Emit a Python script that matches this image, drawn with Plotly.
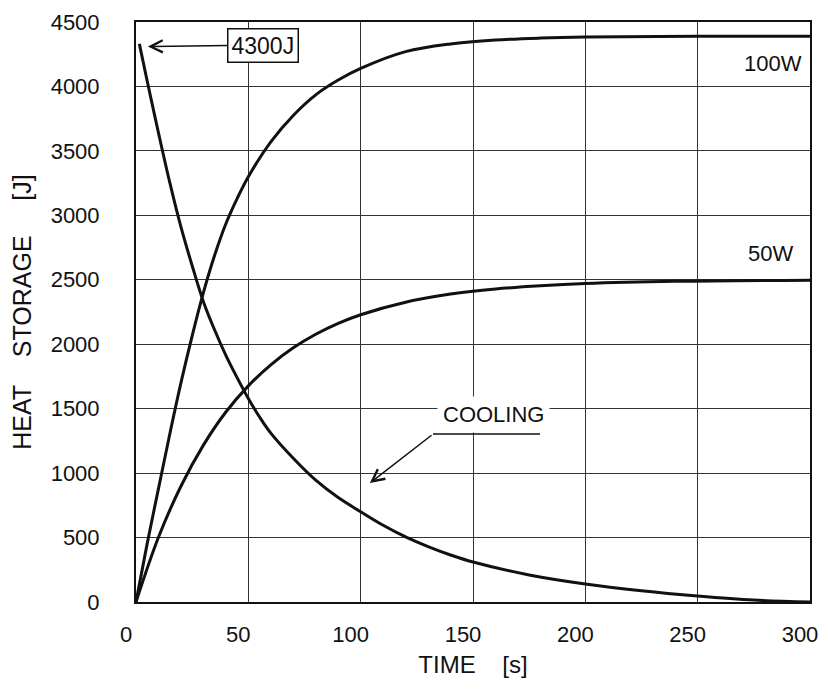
import plotly.graph_objects as go

# heat storage curves (time in s, energy in J)
t_100w = [0, 5, 10, 15, 20, 25, 30, 35, 40, 45, 50, 60, 70, 80, 90, 100, 120, 140, 160, 180, 200, 250, 300]
e_100w = [0, 455, 880, 1300, 1700, 2065, 2400, 2690, 2935, 3130, 3300, 3570, 3775, 3935, 4050, 4140, 4270, 4330, 4360, 4375, 4383, 4390, 4390]

t_50w = [0, 10, 20, 30, 40, 50, 60, 70, 80, 90, 100, 120, 140, 160, 180, 200, 240, 300]
e_50w = [0, 502, 898, 1217, 1474, 1677, 1840, 1972, 2077, 2162, 2229, 2326, 2389, 2429, 2454, 2471, 2488, 2497]

t_cool = [1.5, 5, 10, 15, 20, 25, 30, 35, 40, 45, 50, 55, 60, 70, 80, 90, 100, 110, 120, 130, 140, 150, 175, 200, 225, 250, 275, 300]
e_cool = [4330, 4040, 3640, 3257, 2910, 2609, 2330, 2110, 1914, 1741, 1579, 1435, 1310, 1115, 945, 810, 700, 595, 505, 430, 365, 310, 210, 140, 88, 47, 15, 0]

x_ticks = [0, 50, 100, 150, 200, 250, 300]
y_ticks = [0, 500, 1000, 1500, 2000, 2500, 3000, 3500, 4000, 4500]

FONT = "Liberation Sans, Arial, sans-serif"
INK = "#111111"

fig = go.Figure()

for xs, ys, name in [(t_100w, e_100w, "100W"), (t_50w, e_50w, "50W"), (t_cool, e_cool, "COOLING")]:
	fig.add_trace(
		go.Scatter(
			x=xs,
			y=ys,
			mode="lines",
			name=name,
			line=dict(color=INK, width=3, shape="spline", smoothing=1),
			showlegend=False,
		)
	)

# curve labels
fig.add_annotation(x=283.5, y=4181, text="100W", showarrow=False, font=dict(size=22, color=INK))
fig.add_annotation(x=282.6, y=2707, text="50W", showarrow=False, font=dict(size=22, color=INK))

# 4300J box with arrow to the start of the cooling curve
fig.add_annotation(
	x=5.3, y=4310, ax=56.5, ay=4320, axref="x", ayref="y",
	text="4300J", font=dict(size=23, color=INK),
	bordercolor=INK, borderwidth=1.5, borderpad=3, bgcolor="white",
	showarrow=True, arrowhead=5, arrowsize=1.6, arrowwidth=1.5, arrowcolor=INK,
)

# COOLING label with leader line
fig.add_annotation(
	x=159.3, y=1451, text="COOLING", showarrow=False,
	font=dict(size=22, color=INK), bgcolor="white", borderpad=5,
)
fig.add_shape(type="line", x0=132.2, x1=179.8, y0=1303, y1=1303, line=dict(color=INK, width=1.5))
fig.add_annotation(
	x=104.1, y=923, ax=132.2, ay=1303, axref="x", ayref="y",
	text="", showarrow=True, arrowhead=5, arrowsize=1.6, arrowwidth=1.5, arrowcolor=INK,
	standoff=0, startstandoff=0,
)

axis_common = dict(
	showgrid=True,
	gridcolor="#333333",
	gridwidth=1.3,
	showline=True,
	linecolor=INK,
	linewidth=2,
	mirror=True,
	ticks="",
	zeroline=False,
	automargin=False,
	ticklabeloverflow="allow",
	tickfont=dict(size=22, color=INK, family=FONT),
)

# page body keeps an 8px margin, so the figure is sized to fit inside it
fig.update_layout(
	width=812,
	height=677,
	margin=dict(l=128, r=10, t=14, b=83),
	paper_bgcolor="white",
	plot_bgcolor="white",
	font=dict(family=FONT, color=INK),
	xaxis=dict(
		range=[0, 300],
		tickvals=x_ticks,
		ticklabelstandoff=12,
		ticklabelshift=-10,
		title=dict(text="TIME\u00a0\u00a0\u00a0\u00a0[s]", font=dict(size=24, color=INK), standoff=10),
		**axis_common,
	),
	yaxis=dict(
		range=[0, 4500],
		tickvals=y_ticks,
		ticklabelstandoff=30,
		title=dict(
			text="HEAT\u00a0\u00a0\u00a0\u00a0STORAGE\u00a0\u00a0\u00a0\u00a0\u00a0[J]",
			font=dict(size=25, color=INK),
			standoff=12,
		),
		**axis_common,
	),
)

fig.write_html("out.html")
